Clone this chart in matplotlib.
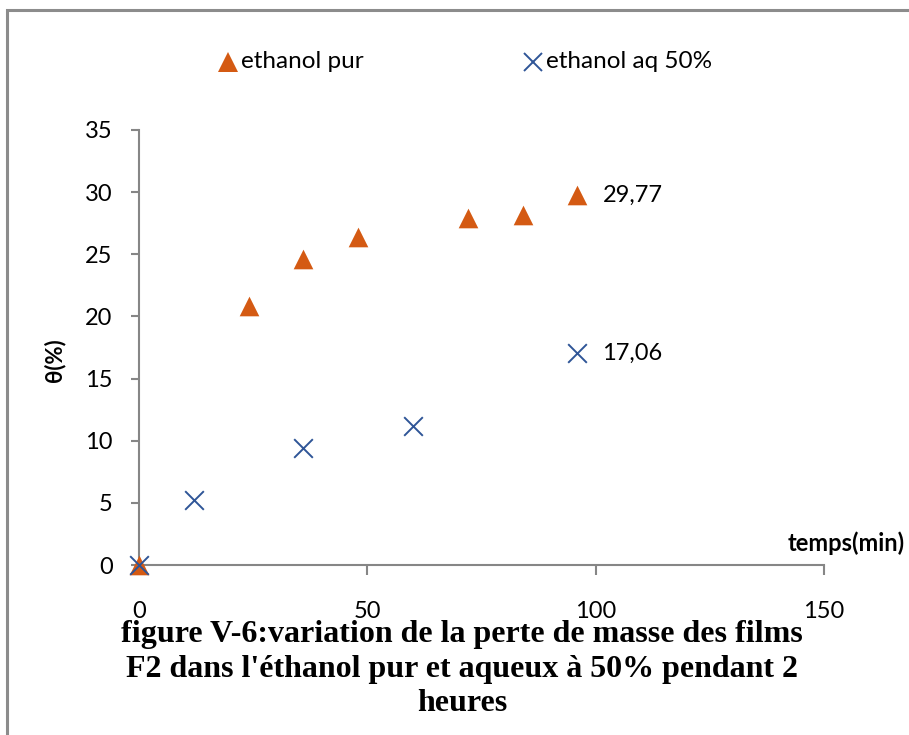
import matplotlib
matplotlib.use("Agg")
import matplotlib.pyplot as plt
from matplotlib.patches import Rectangle
from matplotlib.lines import Line2D

# Data
temps_pur = [0, 24, 36, 48, 72, 84, 96]
theta_pur = [0, 20.8, 24.6, 26.4, 27.9, 28.2, 29.77]
temps_aq = [0, 12, 36, 60, 96]
theta_aq = [0, 5.2, 9.4, 11.2, 17.06]
x_ticks = [0, 50, 100, 150]
y_ticks = [0, 5, 10, 15, 20, 25, 30, 35]
label_pur = "ethanol pur"
label_aq = "ethanol aq 50%"

orange = "#D45A13"
blue = "#2F5597"
axis_gray = "#868686"
sans = ["Lato", "DejaVu Sans"]

W, H = 909, 735
fig = plt.figure(figsize=(W / 100, H / 100), dpi=100)
ax = fig.add_axes([139 / W, 1 - 565 / H, (824 - 139) / W, (565 - 130) / H])

# outer frame of the chart area
fig.patches.append(Rectangle((7 / W, -0.05), 1.1, 1 - 10 / H + 0.05,
                             transform=fig.transFigure, fill=False,
                             edgecolor="#8c8c8c", linewidth=2.2))

ax.scatter(temps_pur, theta_pur, marker="^", s=200, color=orange, zorder=3,
           linewidths=0, clip_on=False)
ax.scatter(temps_aq, theta_aq, marker="x", s=180, color=blue, zorder=4,
           linewidths=1.4, clip_on=False)

for xs, ys in ((temps_pur, theta_pur), (temps_aq, theta_aq)):
    ax.annotate(f"{ys[-1]:.2f}".replace(".", ","), (xs[-1], ys[-1]),
                xytext=(18, 0), textcoords="offset points", va="center",
                ha="left", fontsize=17, family=sans)

ax.set_xlim(0, 150)
ax.set_ylim(0, 35)
ax.set_xticks(x_ticks)
ax.set_yticks(y_ticks)
for s in ["top", "right"]:
    ax.spines[s].set_visible(False)
for s in ["left", "bottom"]:
    ax.spines[s].set_color(axis_gray)
    ax.spines[s].set_linewidth(1.5)
ax.tick_params(axis="x", direction="out", length=7, width=1.5, color=axis_gray,
               pad=19, labelsize=17)
ax.tick_params(axis="y", direction="out", length=6, width=1.5, color=axis_gray,
               pad=13, labelsize=17)
for lab in ax.get_xticklabels() + ax.get_yticklabels():
    lab.set_family(sans)

fig.text(905 / W, 1 - 543 / H, "temps(min)", ha="right", va="center",
         fontsize=17, fontweight="bold", family=sans)
fig.text(55 / W, 1 - 360 / H, "θ(%)", ha="center", va="center", rotation=90,
         fontsize=16, fontweight="bold", family=sans)

# legend entries
leg_y = 1 - 62 / H
fig.add_artist(Line2D([228 / W], [leg_y], marker="^", linestyle="none",
                      color=orange, markersize=14, markeredgewidth=0,
                      transform=fig.transFigure))
fig.text(241 / W, leg_y, label_pur, ha="left", va="center", fontsize=17.5,
         family=sans)
fig.add_artist(Line2D([533 / W], [leg_y], marker="x", linestyle="none",
                      color=blue, markersize=13, markeredgewidth=1.4,
                      transform=fig.transFigure))
fig.text(546 / W, leg_y, label_aq, ha="left", va="center", fontsize=17.5,
         family=sans)

fig.text(462 / W, 1 - 669 / H,
         "figure V-6:variation de la perte de masse des films\n"
         "F2 dans l'éthanol pur et aqueux à 50% pendant 2\nheures",
         ha="center", va="center", fontsize=23, fontweight="bold",
         family=["Liberation Serif", "DejaVu Serif"], linespacing=1.25)

fig.savefig("out.png", dpi=100)
